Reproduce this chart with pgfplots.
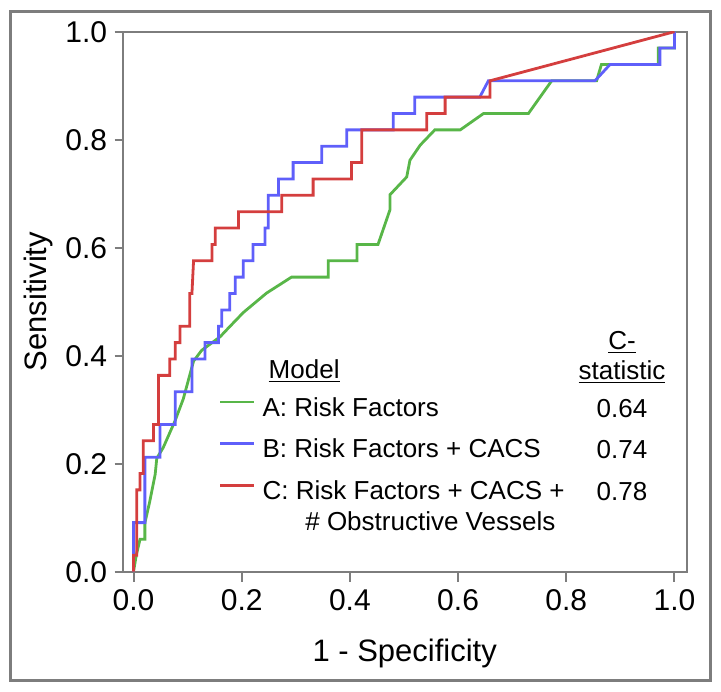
\documentclass[border=0pt]{standalone}
\usepackage{pgfplots}
\pgfplotsset{compat=1.18}
\usepackage{fontspec}
\setmainfont{Liberation Sans}
\definecolor{rocgreen}{RGB}{88,182,72}
\definecolor{rocblue}{RGB}{95,95,250}
\definecolor{rocred}{RGB}{212,62,62}
\definecolor{framegray}{RGB}{125,125,125}
\begin{document}
\begin{tikzpicture}
\useasboundingbox (-61.35pt,-59.65pt) rectangle (299.15pt,285.85pt);
\draw[framegray, line width=1.5pt] (-55.85pt,-54.15pt) rectangle (293.65pt,279.85pt);
\begin{axis}[
    at={(0,0)}, anchor=south west,
    width=282pt, height=270pt, scale only axis,
    xmin=-0.02, xmax=1.0226, ymin=0, ymax=1,
    xtick={0,0.2,0.4,0.6,0.8,1}, ytick={0,0.2,0.4,0.6,0.8,1},
    xtick pos=bottom, ytick pos=left, tick align=outside,
    xtick style={/pgfplots/major tick length=5pt},
    ytick style={/pgfplots/major tick length=4pt},
    axis line style={draw=framegray, line width=1pt},
    tick style={draw=framegray, line width=1pt},
    /pgf/number format/assume math mode=true,
    /pgf/number format/.cd, fixed, fixed zerofill, precision=1, /pgfplots/.cd,
    ticklabel style={font=\fontsize{15}{18}\selectfont},
    xticklabel style={yshift=-1pt},
    xlabel={1 - Specificity}, ylabel={Sensitivity},
    label style={font=\fontsize{15.5}{18}\selectfont},
    xlabel style={at={(axis description cs:0.5,-0.151)}, anchor=center},
    ylabel style={at={(axis description cs:-0.149,0.5)}, anchor=center},
    legend style={at={(axis cs:0.157,0.326)}, anchor=north west, draw=none, fill=none,
        inner sep=0pt, row sep=7.8pt, column sep=3.8pt,
        font=\fontsize{13}{15}\selectfont,
        nodes={text height=10pt, text depth=3pt, inner sep=0pt}},
    legend cell align=left,
    legend image code/.code={\draw[#1, line width=1.4pt] (0pt,3.5pt) -- (16.7pt,3.5pt);},
    every axis plot/.append style={line width=1.4pt},
]
% A: risk factors
\addplot[rocgreen] coordinates {
(0,0) (0.005,0.03) (0.012,0.06) (0.021,0.06) (0.021,0.09) (0.030,0.13)
(0.040,0.18) (0.043,0.21) (0.055,0.23) (0.077,0.28) (0.092,0.32) (0.111,0.39)
(0.126,0.41) (0.160,0.435) (0.178,0.454) (0.203,0.48) (0.246,0.516) (0.292,0.5455)
(0.360,0.5455) (0.360,0.5758) (0.413,0.5758) (0.413,0.6061) (0.452,0.6061)
(0.474,0.670) (0.474,0.698) (0.505,0.731) (0.511,0.762) (0.530,0.790)
(0.557,0.8182) (0.604,0.8182) (0.647,0.8485) (0.730,0.8485) (0.773,0.9091)
(0.856,0.9091) (0.865,0.9394) (0.970,0.9394) (0.970,0.9697) (1,0.9697) (1,1)};
\addlegendentry{A: Risk Factors}
% B: risk factors + CACS
\addplot[rocblue] coordinates {
(0,0) (0,0.0909) (0.021,0.0909) (0.021,0.2121) (0.049,0.2121) (0.049,0.2727)
(0.077,0.2727) (0.077,0.3333) (0.108,0.3333) (0.108,0.3939) (0.132,0.3939)
(0.132,0.4242) (0.157,0.4242) (0.157,0.4545) (0.163,0.4545) (0.163,0.4848)
(0.178,0.4848) (0.178,0.5152) (0.188,0.5152) (0.188,0.5455) (0.203,0.5455)
(0.203,0.5758) (0.221,0.5758) (0.221,0.6061) (0.243,0.6061) (0.243,0.6364)
(0.249,0.6364) (0.249,0.6970) (0.268,0.6970) (0.268,0.7273) (0.295,0.7273)
(0.295,0.7576) (0.348,0.7576) (0.348,0.7879) (0.394,0.7879) (0.394,0.8182)
(0.480,0.8182) (0.480,0.8485) (0.520,0.8485) (0.520,0.8788) (0.640,0.8788)
(0.656,0.9091) (0.853,0.9091) (0.881,0.9394) (0.973,0.9394) (0.973,0.9697)
(1,0.9697) (1,1)};
\addlegendentry{B: Risk Factors + CACS}
% C: risk factors + CACS + obstructive vessels
\addplot[rocred] coordinates {
(0,0) (0,0.0303) (0.006,0.0303) (0.006,0.1515) (0.012,0.1515) (0.012,0.1818)
(0.018,0.1818) (0.018,0.2424) (0.037,0.2424) (0.037,0.2727) (0.046,0.2727)
(0.046,0.3636) (0.067,0.3636) (0.067,0.3939) (0.077,0.3939) (0.077,0.4242)
(0.086,0.4242) (0.086,0.4545) (0.104,0.4545) (0.104,0.5152) (0.108,0.5152)
(0.111,0.5758) (0.145,0.5758) (0.145,0.6061) (0.151,0.6061) (0.151,0.6364)
(0.194,0.6364) (0.194,0.6667) (0.274,0.6667) (0.274,0.6970) (0.332,0.6970)
(0.332,0.7273) (0.403,0.7273) (0.403,0.7576) (0.422,0.7576) (0.422,0.8182)
(0.542,0.8182) (0.542,0.8485) (0.576,0.8485) (0.576,0.8788) (0.659,0.8788)
(0.659,0.9091) (1,1)};
\addlegendentry{C: Risk Factors + CACS +}
\begin{scope}[font=\fontsize{13}{15}\selectfont]
\node[anchor=base west] at (axis cs:0.2369,0.358) {\underline{Model}};
\node[anchor=base] at (axis cs:0.903,0.412) {\underline{C-}};
\node[anchor=base] at (axis cs:0.903,0.356) {\underline{statistic}};
\node at (axis cs:0.903,0.3026) {0.64};
\node at (axis cs:0.903,0.2254) {0.74};
\node at (axis cs:0.903,0.148) {0.78};
\node[anchor=west] at (axis cs:0.3046,0.0926) {\# Obstructive Vessels};
\end{scope}
\end{axis}
\end{tikzpicture}
\end{document}
